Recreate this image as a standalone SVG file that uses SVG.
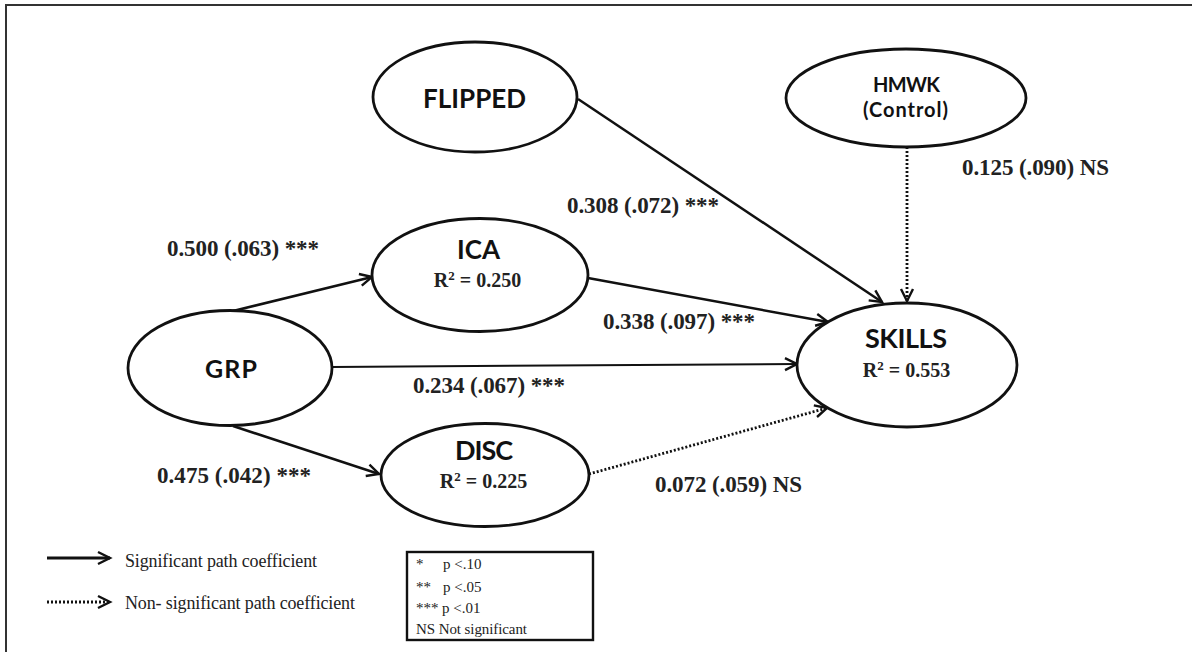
<svg xmlns="http://www.w3.org/2000/svg" width="1192" height="652" viewBox="0 0 1192 652">
<defs>
<style>
.node{fill:#fff;stroke:#111;stroke-width:2.8}
.lbl{font-family:Lato,"Open Sans",sans-serif;font-weight:bold;fill:#111;text-anchor:middle}
.r2{font-family:"Liberation Serif","Times New Roman",serif;font-weight:bold;font-size:20px;fill:#222;text-anchor:middle}
.coef{font-family:"Liberation Serif","Times New Roman",serif;font-weight:bold;font-size:23px;fill:#222}
.leg{font-family:"Liberation Serif","Times New Roman",serif;font-size:18px;fill:#222}
.box{font-family:"Liberation Serif","Times New Roman",serif;font-size:15px;fill:#222}
.sol{stroke:#111;stroke-width:2.5;fill:none;marker-end:url(#arr)}
.dot{stroke:#111;stroke-width:2.8;fill:none;stroke-dasharray:2 2;marker-end:url(#arr)}
</style>
<marker id="arr" markerUnits="userSpaceOnUse" markerWidth="16" markerHeight="16" refX="13" refY="7" orient="auto" viewBox="0 0 16 14">
<path d="M1,1 L13,7 L1,13" fill="none" stroke="#111" stroke-width="2.4"/>
</marker>
</defs>
<rect width="1192" height="652" fill="#fff"/>
<path d="M6,652 L6,5 L1192,5" fill="none" stroke="#333" stroke-width="2"/>

<g id="connectors">
<line id="grp-ica" class="sol" x1="233" y1="311" x2="372" y2="277"/>
<line id="grp-disc" class="sol" x1="233" y1="426" x2="379" y2="474"/>
<line id="grp-skills" class="sol" style="stroke-width:2" x1="332" y1="367" x2="797" y2="364"/>
<line id="ica-skills" class="sol" x1="588" y1="278" x2="828" y2="322"/>
<line id="flipped-skills" class="sol" x1="578" y1="99" x2="882" y2="302"/>
<line id="hmwk-skills" class="dot" x1="907" y1="147" x2="907" y2="301"/>
<line id="disc-skills" class="dot" x1="589" y1="474" x2="827" y2="408"/>
</g>

<g id="FLIPPED">
<ellipse class="node" cx="475" cy="97" rx="102" ry="55"/>
<text class="lbl" x="474.5" y="108" font-size="26" textLength="103">FLIPPED</text>
</g>
<g id="HMWK">
<ellipse class="node" cx="906" cy="98" rx="120" ry="49"/>
<text class="lbl" x="906.5" y="92" font-size="20" textLength="67">HMWK</text>
<text class="lbl" x="905.5" y="117" font-size="20" textLength="85">(Control)</text>
</g>
<g id="ICA">
<ellipse class="node" cx="480" cy="275" rx="108" ry="56.5"/>
<text class="lbl" x="478.5" y="259" font-size="26" textLength="43">ICA</text>
<text class="r2" x="477.5" y="287">R<tspan font-size="13" dy="-7">2</tspan><tspan dy="7"> = 0.250</tspan></text>
</g>
<g id="GRP">
<ellipse class="node" cx="230" cy="368" rx="102" ry="57.5"/>
<text class="lbl" x="231" y="378" font-size="25" textLength="52">GRP</text>
</g>
<g id="DISC">
<ellipse class="node" cx="485" cy="475" rx="104" ry="51.5"/>
<text class="lbl" x="484" y="460" font-size="27" textLength="58">DISC</text>
<text class="r2" x="483.5" y="488">R<tspan font-size="13" dy="-7">2</tspan><tspan dy="7"> = 0.225</tspan></text>
</g>
<g id="SKILLS">
<ellipse class="node" cx="907" cy="365" rx="110" ry="62"/>
<text class="lbl" x="906" y="348" font-size="27" textLength="82">SKILLS</text>
<text class="r2" x="906.5" y="377">R<tspan font-size="13" dy="-7">2</tspan><tspan dy="7"> = 0.553</tspan></text>
</g>

<g id="coefficients">
<text class="coef" x="167" y="256" textLength="152">0.500 (.063) ***</text>
<text class="coef" x="567" y="213" textLength="152">0.308 (.072) ***</text>
<text class="coef" x="962" y="175" textLength="147">0.125 (.090) NS</text>
<text class="coef" x="603" y="329" textLength="152">0.338 (.097) ***</text>
<text class="coef" x="413" y="393" textLength="152">0.234 (.067) ***</text>
<text class="coef" x="157" y="483" textLength="154">0.475 (.042) ***</text>
<text class="coef" x="655" y="492" textLength="147">0.072 (.059) NS</text>
</g>

<g id="legend">
<line class="sol" style="stroke-width:3.2" x1="47" y1="558" x2="110" y2="558"/>
<text class="leg" x="125" y="567" textLength="192">Significant path coefficient</text>
<line class="dot" x1="47" y1="602" x2="110" y2="602"/>
<text class="leg" x="125" y="609" textLength="230">Non- significant path coefficient</text>
</g>

<g id="pvalues">
<rect x="407" y="552" width="186" height="88" fill="#fff" stroke="#111" stroke-width="2.4"/>
<text class="box" x="416" y="569">*</text>
<text class="box" x="443" y="569">p &lt;.10</text>
<text class="box" x="416" y="592">**</text>
<text class="box" x="443" y="592">p &lt;.05</text>
<text class="box" x="416" y="613">***</text>
<text class="box" x="442" y="613">p &lt;.01</text>
<text class="box" x="416" y="634" textLength="111">NS Not significant</text>
</g>
</svg>
